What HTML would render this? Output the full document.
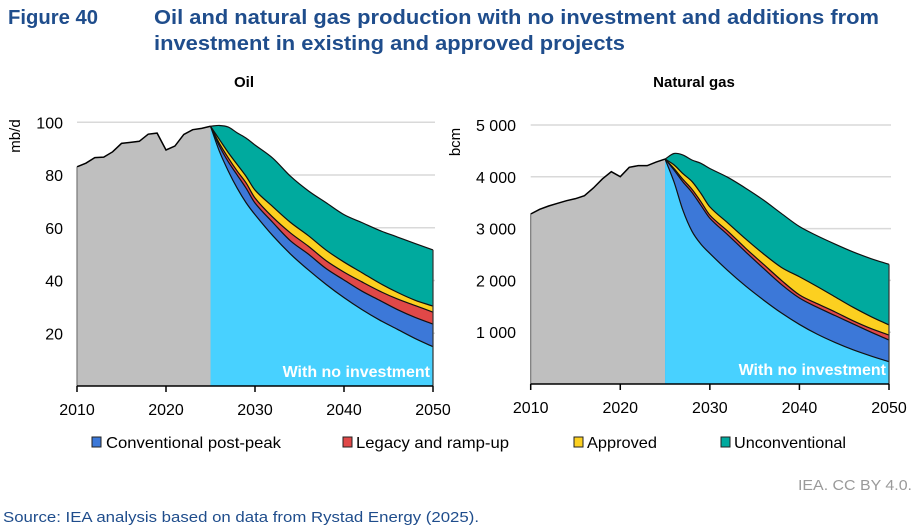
<!DOCTYPE html>
<html><head><meta charset="utf-8">
<style>
html,body{margin:0;padding:0;background:#fff;}
svg{display:block;font-family:"Liberation Sans",Arial,sans-serif;}
</style></head>
<body>
<svg id="fig" width="918" height="531" viewBox="0 0 918 531">
  <text x="8" y="24" font-size="20" font-weight="bold" fill="#1f4d8c" textLength="90" lengthAdjust="spacingAndGlyphs">Figure 40</text>
  <text x="154" y="24" font-size="20" font-weight="bold" fill="#1f4d8c" textLength="725" lengthAdjust="spacingAndGlyphs">Oil and natural gas production with no investment and additions from</text>
  <text x="154" y="50" font-size="20" font-weight="bold" fill="#1f4d8c" textLength="471" lengthAdjust="spacingAndGlyphs">investment in existing and approved projects</text>
  <text x="244" y="87" font-size="15" font-weight="bold" text-anchor="middle" fill="#000">Oil</text>
  <text x="694" y="87" font-size="15" font-weight="bold" text-anchor="middle" fill="#000">Natural gas</text>
  <g id="oil"></g>
  <g id="gas"></g>
  <g>
    <g><rect x="92" y="437" width="9" height="10" fill="#3c78d8" stroke="#222" stroke-width="1"/><text x="106" y="448" font-size="16" textLength="175" lengthAdjust="spacingAndGlyphs">Conventional post-peak</text></g>
    <g><rect x="343" y="437" width="9" height="10" fill="#e04848" stroke="#222" stroke-width="1"/><text x="356" y="448" font-size="16" textLength="153" lengthAdjust="spacingAndGlyphs">Legacy and ramp-up</text></g>
    <g><rect x="574" y="437" width="9" height="10" fill="#fcd020" stroke="#222" stroke-width="1"/><text x="587" y="448" font-size="16" textLength="70" lengthAdjust="spacingAndGlyphs">Approved</text></g>
    <g><rect x="721" y="437" width="9" height="10" fill="#00aa9e" stroke="#222" stroke-width="1"/><text x="734" y="448" font-size="16" textLength="112" lengthAdjust="spacingAndGlyphs">Unconventional</text></g>
  </g>
  <text x="912" y="490" font-size="15" fill="#9a9a9a" text-anchor="end" textLength="114" lengthAdjust="spacingAndGlyphs">IEA. CC BY 4.0.</text>
  <text x="3" y="522" font-size="15" fill="#1f4d8c" textLength="476" lengthAdjust="spacingAndGlyphs">Source: IEA analysis based on data from Rystad Energy (2025).</text>
</svg>
<script>
// ---- Oil data (mb/d) ----
const oilHistYears = [2010,2011,2012,2013,2014,2015,2016,2017,2018,2019,2020,2021,2022,2023,2024,2025];
const oilHist = [83.1,84.5,86.6,86.8,88.8,92,92.4,92.8,95.5,95.9,89.5,91,95.4,97.2,97.7,98.5];
const projYears = [2025,2026,2027,2028,2029,2030,2032,2034,2036,2038,2040,2042,2044,2046,2048,2050];
const oilNoInv = [98.5,89,81.5,75,69.5,65,57,50,44,38.5,33.5,29,25,21.5,18,14.9];
const oilConv = [0,2,3.5,5,5.5,4.4,5,5,6,6,6.7,7,7.5,7.5,8,8.6];
const oilLegacy = [0,1,1.5,1.5,2,1.9,2,3,3,3,3,3.5,3.5,4,4.5,4.5];
const oilApproved = [0,1.5,2,2.5,2.5,3,4,4,4,4,3.8,3.5,3,2.5,2,2.3];
const oilUnconv = [0,5.3,9.7,12,14.5,17.1,18.4,17.5,17,18,18,19,20,21,21.5,21.3];
const oilTicks = [20,40,60,80,100];
const oilTickLabels = ["20","40","60","80","100"];
// ---- Gas data (bcm) ----
const gasHistYears = [2010,2011,2012,2013,2014,2015,2016,2017,2018,2019,2020,2021,2022,2023,2024,2025];
const gasHist = [3282,3372,3436,3488,3539,3578,3636,3784,3958,4099,4002,4183,4215,4215,4285,4343];
const gasNoInv = [4343,3900,3350,2950,2700,2520,2190,1890,1620,1370,1150,960,800,660,540,430];
const gasConv = [0,230,550,750,750,680,690,660,610,550,510,520,520,500,460,420];
const gasLegacy = [0,30,50,60,70,60,70,70,80,80,60,70,70,60,70,96];
const gasApproved = [0,70,110,150,160,160,160,180,200,250,350,330,290,260,230,194];
const gasUnconv = [0,220,360,414,580,740,880,980,1040,1040,970,980,1020,1070,1120,1170];
const gasTicks = [1000,2000,3000,4000,5000];
const gasTickLabels = ["1 000","2 000","3 000","4 000","5 000"];
const xTicks = [2010,2020,2030,2040,2050];
const xTickLabels = ["2010","2020","2030","2040","2050"];

const NS = "http://www.w3.org/2000/svg";
function mk(tag, attrs, parent){const e=document.createElementNS(NS,tag);for(const k in attrs)e.setAttribute(k,attrs[k]);parent.appendChild(e);return e;}

function smoothPts(pts){
  let d="";
  for(let i=0;i<pts.length-1;i++){
    const p0=pts[Math.max(0,i-1)],p1=pts[i],p2=pts[i+1],p3=pts[Math.min(pts.length-1,i+2)];
    const h=p2[0]-p1[0];
    const s1=(p2[1]-p0[1])/((p2[0]-p0[0])||1), s2=(p3[1]-p1[1])/((p3[0]-p1[0])||1);
    const c1=[p1[0]+h/3,p1[1]+s1*h/3];
    const c2=[p2[0]-h/3,p2[1]-s2*h/3];
    d+=` C${c1[0]},${c1[1]} ${c2[0]},${c2[1]} ${p2[0]},${p2[1]}`;
  }
  return d;
}

function drawChart(g, cfg){
  const X = y => cfg.x0 + (y-2010)/(40)*(cfg.x1-cfg.x0);
  const Y = v => cfg.y0 - v/cfg.vmax*(cfg.y0-cfg.ytop);
  cfg.ticks.forEach((t,i)=>{
    const gl=mk("line",{x1:X(2010),x2:X(2050)+2,y1:Y(t),y2:Y(t),stroke:"#d9d9d9","stroke-width":1.5},g);
    
    
    const tl=mk("text",{x:cfg.labelX,y:Y(t)+6,"font-size":16,"text-anchor":"end",fill:"#000"},g);
    tl.textContent=cfg.tickLabels[i];
    
    
  });
  let d=`M${X(cfg.histYears[0])},${Y(0)}`;
  cfg.hist.forEach((v,i)=>{d+=` L${X(cfg.histYears[i])},${Y(v)}`;});
  d+=` L${X(2025)},${Y(0)} Z`;
  const ha=mk("path",{d,fill:"#bfbfbf",stroke:"none"},g);
  
  
  let hl="";cfg.hist.forEach((v,i)=>{hl+=(i?" L":"M")+X(cfg.histYears[i])+","+Y(v);});
  const hline=mk("path",{d:hl,fill:"none",stroke:"#000","stroke-width":1.5},g);
  
  
  const layers=[cfg.noInv,cfg.conv,cfg.legacy,cfg.approved,cfg.unconv];
  const colors=["#48d1ff","#3c78d8","#e04848","#fcd020","#00aa9e"];
  const names=["no-investment-area","conventional-post-peak-area","legacy-ramp-up-area","approved-area","unconventional-area"];
  let base=projYears.map(()=>0);
  const tops=[];
  layers.forEach(l=>{const t=base.map((b,i)=>b+l[i]);tops.push(t);base=t;});
  for(let k=layers.length-1;k>=0;k--){
    const top=tops[k].map((v,i)=>[X(projYears[i]),Y(v)]);
    let p=`M${X(2025)},${Y(0)} L${top[0][0]},${top[0][1]}`+smoothPts(top)+` L${X(2050)},${Y(0)} Z`;
    const a=mk("path",{d:p,fill:colors[k],stroke:"none"},g);
    
    
  }
  for(let k=0;k<layers.length;k++){
    const top=tops[k].map((v,i)=>[X(projYears[i]),Y(v)]);
    const ln=mk("path",{d:`M${top[0][0]},${top[0][1]}`+smoothPts(top),fill:"none",stroke:"#111","stroke-width":1.2},g);
    
    
  }
  const rl=mk("line",{x1:X(2050),x2:X(2050),y1:Y(0),y2:Y(tops[4][tops[4].length-1]),stroke:"#333","stroke-width":1.2},g);
  
  
  const ll=mk("line",{x1:X(2010),x2:X(2010),y1:Y(0),y2:Y(cfg.hist[0]),stroke:"#777","stroke-width":1.2},g);
  
  
  const wl=mk("text",{x:X(2050)-3,y:Y(0)-9,"font-size":16,"font-weight":"bold",fill:"#fff","text-anchor":"end"},g);
  wl.textContent="With no investment";
  
  
  const ax=mk("line",{x1:X(2010),x2:X(2050),y1:Y(0),y2:Y(0),stroke:"#000","stroke-width":1.5},g);
  
  
  xTicks.forEach((t,i)=>{
    const tk=mk("line",{x1:X(t),x2:X(t),y1:Y(0),y2:Y(0)+6,stroke:"#000","stroke-width":1.5},g);
    
    
    const tl=mk("text",{x:X(t),y:Y(0)+29,"font-size":16,"text-anchor":"middle",fill:"#000"},g);
    tl.textContent=xTickLabels[i];
    
    
  });
  const ut=mk("text",{x:cfg.unitX,y:cfg.unitY,"font-size":15,"text-anchor":"middle",fill:"#000",transform:`rotate(-90 ${cfg.unitX} ${cfg.unitY})`},g);
  ut.textContent=cfg.unit;
  
  
}

drawChart(document.getElementById("oil"),{x0:77,x1:433,y0:386,ytop:122.3,vmax:100,ticks:oilTicks,tickLabels:oilTickLabels,labelX:63,
  histYears:oilHistYears,hist:oilHist,noInv:oilNoInv,conv:oilConv,legacy:oilLegacy,approved:oilApproved,unconv:oilUnconv,unit:"mb/d",unitX:20,unitY:136});
drawChart(document.getElementById("gas"),{x0:530.7,x1:889,y0:384,ytop:125,vmax:5000,ticks:gasTicks,tickLabels:gasTickLabels,labelX:516,
  histYears:gasHistYears,hist:gasHist,noInv:gasNoInv,conv:gasConv,legacy:gasLegacy,approved:gasApproved,unconv:gasUnconv,unit:"bcm",unitX:460,unitY:142});
</script>
</body></html>
